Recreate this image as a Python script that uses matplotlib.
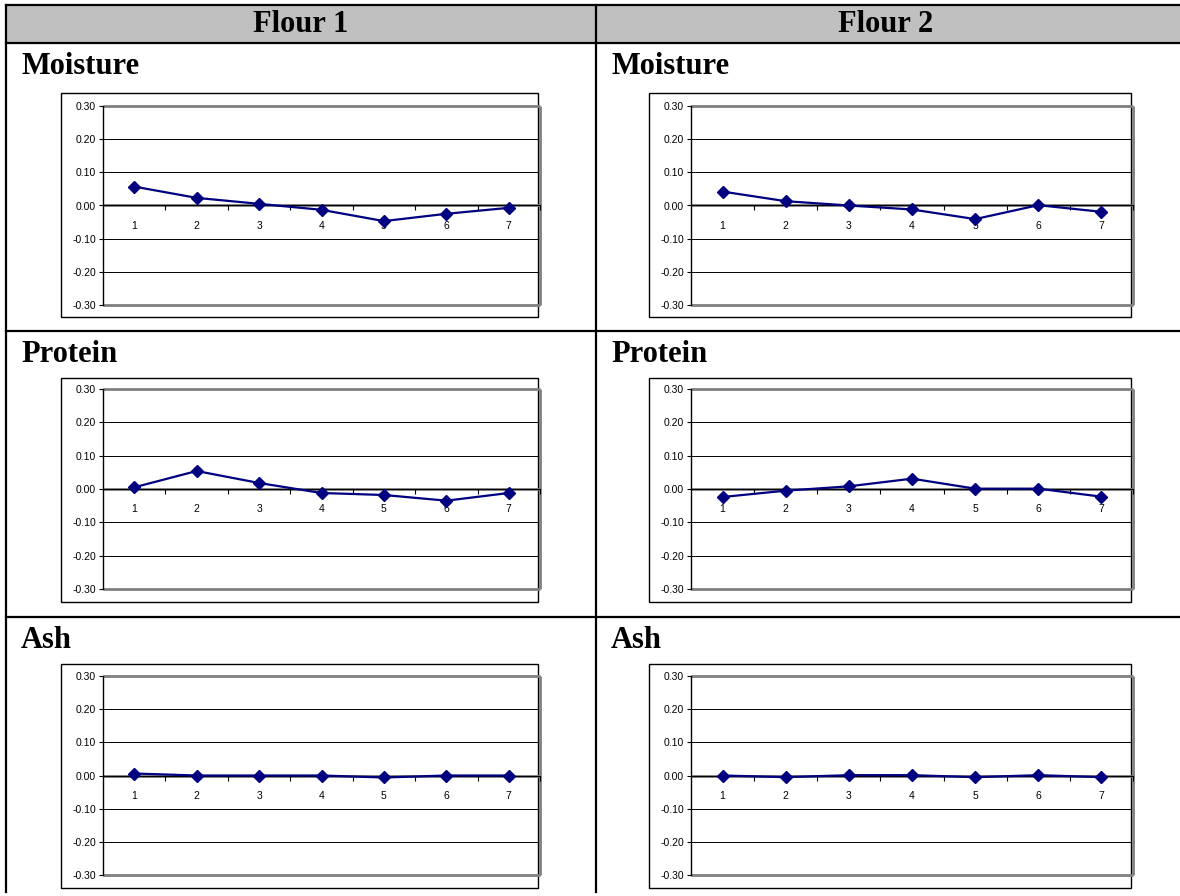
"""Flour 1 / Flour 2 deviation charts laid out as a bordered table."""

import matplotlib
matplotlib.use("Agg")
import matplotlib.pyplot as plt
from matplotlib.lines import Line2D
from matplotlib.patches import Rectangle

W, H = 1180, 896

COLUMNS = ["Flour 1", "Flour 2"]
PROPERTIES = ["Moisture", "Protein", "Ash"]
SAMPLES = [1, 2, 3, 4, 5, 6, 7]

moisture_flour1 = [0.057, 0.023, 0.005, -0.013, -0.047, -0.025, -0.007]
moisture_flour2 = [0.042, 0.013, 0.000, -0.012, -0.041, 0.001, -0.019]
protein_flour1 = [0.005, 0.054, 0.018, -0.012, -0.018, -0.035, -0.012]
protein_flour2 = [-0.024, -0.005, 0.008, 0.031, 0.001, 0.001, -0.023]
ash_flour1 = [0.006, 0.000, 0.000, 0.000, -0.006, 0.000, 0.000]
ash_flour2 = [0.000, -0.005, 0.001, 0.001, -0.005, 0.001, -0.005]

SERIES = [
    [moisture_flour1, moisture_flour2],
    [protein_flour1, protein_flour2],
    [ash_flour1, ash_flour2],
]

Y_TICKS = [-0.30, -0.20, -0.10, 0.00, 0.10, 0.20, 0.30]

LINE_COLOR = "#000080"
BORDER_GRAY = "#808080"
HEADER_GRAY = "#c0c0c0"
SERIF = ["Liberation Serif", "DejaVu Serif"]
SANS = ["Liberation Sans", "DejaVu Sans"]

# layout in pixels (x from left, y from top)
TABLE_LEFT, COL_SPLIT = 6, 596
HEADER_TOP, HEADER_BOTTOM = 5, 43
ROW_LINES = [331, 617]
TABLE_BOTTOM = 892
ROW_TOPS = [43, 331, 617]
PLOT_X = [(103, 540), (691, 1133)]
BOX_X = [(61, 538), (649, 1131)]
PLOT_Y = [(106, 305), (389, 589), (676, 875)]
BOX_Y = [(93, 317), (378, 602), (664, 888)]


def fx(x):
    return x / W


def fy(y):
    return 1.0 - y / H


def fig_line(fig, x0, y0, x1, y1, **kw):
    fig.add_artist(Line2D([fx(x0), fx(x1)], [fy(y0), fy(y1)], transform=fig.transFigure, **kw))


def draw_chart(fig, plot_x, plot_y, box_x, box_y, values):
    fig.add_artist(Rectangle(
        (fx(box_x[0]), fy(box_y[1])), fx(box_x[1]) - fx(box_x[0]), fy(box_y[0]) - fy(box_y[1]),
        transform=fig.transFigure, facecolor="white", edgecolor="black", linewidth=1.0, zorder=1,
    ))
    ax = fig.add_axes([fx(plot_x[0]), fy(plot_y[1]), fx(plot_x[1]) - fx(plot_x[0]),
                       fy(plot_y[0]) - fy(plot_y[1])])
    ax.set_zorder(2)
    ax.patch.set_alpha(0)
    ax.set_xlim(0.5, 7.5)
    ax.set_ylim(-0.30, 0.30)

    for v in Y_TICKS:
        if v in (-0.30, 0.30, 0.00):
            continue
        ax.axhline(v, color="black", linewidth=0.7, zorder=1)
    ax.axhline(0.0, color=BORDER_GRAY, linewidth=2.0, zorder=1)

    # gray plot-area frame on top, right and bottom
    for xs, ys in [((0, 1), (1, 1)), ((1, 1), (1, 0)), ((0, 1), (0, 0))]:
        ax.plot(xs, ys, transform=ax.transAxes, color=BORDER_GRAY, linewidth=2.0,
                clip_on=False, zorder=1, solid_capstyle="butt")

    for side in ("top", "right"):
        ax.spines[side].set_visible(False)
    ax.spines["left"].set_color("black")
    ax.spines["left"].set_linewidth(1.0)
    ax.spines["bottom"].set_position(("data", 0.0))
    ax.spines["bottom"].set_color("black")
    ax.spines["bottom"].set_linewidth(0.8)

    ax.set_yticks(Y_TICKS)
    ax.set_yticklabels([f"{v:.2f}" for v in Y_TICKS])
    ax.tick_params(axis="y", direction="out", length=3, width=0.8, pad=2,
                   labelsize=7.5, colors="black")
    ax.set_xticks(SAMPLES)
    ax.set_xticklabels([str(s) for s in SAMPLES])
    ax.set_xticks([s + 0.5 for s in SAMPLES], minor=True)
    ax.tick_params(axis="x", which="major", length=0, pad=11, labelsize=7.5)
    ax.tick_params(axis="x", which="minor", direction="out", length=3.5, width=0.8)
    for lbl in ax.get_xticklabels() + ax.get_yticklabels():
        lbl.set_family(SANS)

    ax.plot(SAMPLES, values, color=LINE_COLOR, linewidth=1.6, marker="D",
            markersize=6.5, markerfacecolor=LINE_COLOR, markeredgecolor=LINE_COLOR,
            zorder=5, clip_on=False)


fig = plt.figure(figsize=(W / 100, H / 100), dpi=100)
fig.patch.set_facecolor("white")

# header band
fig.add_artist(Rectangle((fx(TABLE_LEFT), fy(HEADER_BOTTOM)), 1.0 - fx(TABLE_LEFT),
                         fy(HEADER_TOP) - fy(HEADER_BOTTOM), transform=fig.transFigure,
                         facecolor=HEADER_GRAY, edgecolor="none", zorder=0))
col_centers = [(TABLE_LEFT + COL_SPLIT) / 2, (COL_SPLIT + 1176) / 2]
for name, cx in zip(COLUMNS, col_centers):
    fig.text(fx(cx), fy((HEADER_TOP + HEADER_BOTTOM) / 2 + 1), name, ha="center", va="center",
             fontsize=22, fontweight="bold", family=SERIF)

# table rules
lw_rule = 1.6
for y in [HEADER_TOP, HEADER_BOTTOM] + ROW_LINES:
    fig_line(fig, TABLE_LEFT, y, W, y, color="black", linewidth=lw_rule)
for x in (TABLE_LEFT, COL_SPLIT):
    fig_line(fig, x, HEADER_TOP, x, TABLE_BOTTOM, color="black", linewidth=lw_rule)

col_lefts = [TABLE_LEFT, COL_SPLIT]
for r, prop in enumerate(PROPERTIES):
    for c in range(2):
        fig.text(fx(col_lefts[c] + 15), fy(ROW_TOPS[r] + 31), prop, ha="left", va="baseline",
                 fontsize=22, fontweight="bold", family=SERIF)
        draw_chart(fig, PLOT_X[c], PLOT_Y[r], BOX_X[c], BOX_Y[r], SERIES[r][c])

fig.savefig("out.png", dpi=100)
